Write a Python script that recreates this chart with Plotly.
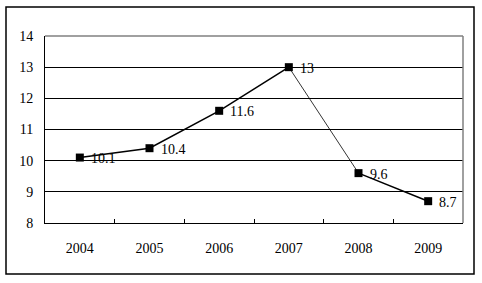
import plotly.graph_objects as go

years = ["2004", "2005", "2006", "2007", "2008", "2009"]
values = [10.1, 10.4, 11.6, 13, 9.6, 8.7]
labels = ["10.1", "10.4", "11.6", "13", "9.6", "8.7"]
y_ticks = [8, 9, 10, 11, 12, 13, 14]

FONT = "Liberation Serif"

fig = go.Figure()
# line segments (the 2007->2008 drop is drawn thinner in the original)
for sl, w in [(slice(0, 4), 1.5), (slice(3, 5), 0.8), (slice(4, 6), 1.5)]:
    fig.add_trace(go.Scatter(
        x=years[sl], y=values[sl], mode="lines",
        line=dict(color="#000000", width=w),
        cliponaxis=False, showlegend=False, hoverinfo="skip",
    ))
fig.add_trace(go.Scatter(
    x=years, y=values, mode="markers",
    marker=dict(symbol="square", size=8, color="#000000"),
    cliponaxis=False, showlegend=False,
))

# category axis: annotation x uses the category's serial index
annotations = [
    dict(x=i, y=yv, text=t, xref="x", yref="y", showarrow=False,
         xanchor="left", yanchor="middle", xshift=9, yshift=-1,
         font=dict(family=FONT, size=14, color="#000000"))
    for i, (yv, t) in enumerate(zip(values, labels))
]

fig.update_layout(
    width=482, height=283,
    margin=dict(l=45, r=19, t=36, b=60),
    paper_bgcolor="white", plot_bgcolor="white",
    font=dict(family=FONT, size=14, color="#000000"),
    xaxis=dict(
        type="category", range=[-0.5, 5.5],
        showgrid=False, showline=True, linecolor="#000000", linewidth=1,
        ticks="inside", tickson="boundaries", ticklen=4, tickcolor="#000000",
        ticklabelstandoff=12,
        tickfont=dict(family=FONT, size=14, color="#000000"),
    ),
    yaxis=dict(
        range=[8, 14], tickvals=y_ticks, ticktext=[str(v) for v in y_ticks],
        showgrid=True, gridcolor="#000000", gridwidth=1,
        showline=True, linecolor="#000000", linewidth=1,
        ticks="", zeroline=False, ticklabelstandoff=8,
        tickfont=dict(family=FONT, size=14, color="#000000"),
    ),
    annotations=annotations,
    shapes=[
        dict(type="line", xref="x domain", yref="y domain", x0=0, x1=1, y0=1, y1=1,
             line=dict(color="#808080", width=1.5), layer="above"),
        dict(type="line", xref="x domain", yref="y domain", x0=1, x1=1, y0=0, y1=1,
             line=dict(color="#808080", width=1.5), layer="above"),
        dict(type="rect", xref="paper", yref="paper",
             x0=(6 - 45) / 418, x1=(474 - 45) / 418,
             y0=(223 - 274) / 187, y1=(223 - 7) / 187,
             line=dict(color="#000000", width=1.5), fillcolor="rgba(0,0,0,0)"),
    ],
)

fig.write_html("out.html")
